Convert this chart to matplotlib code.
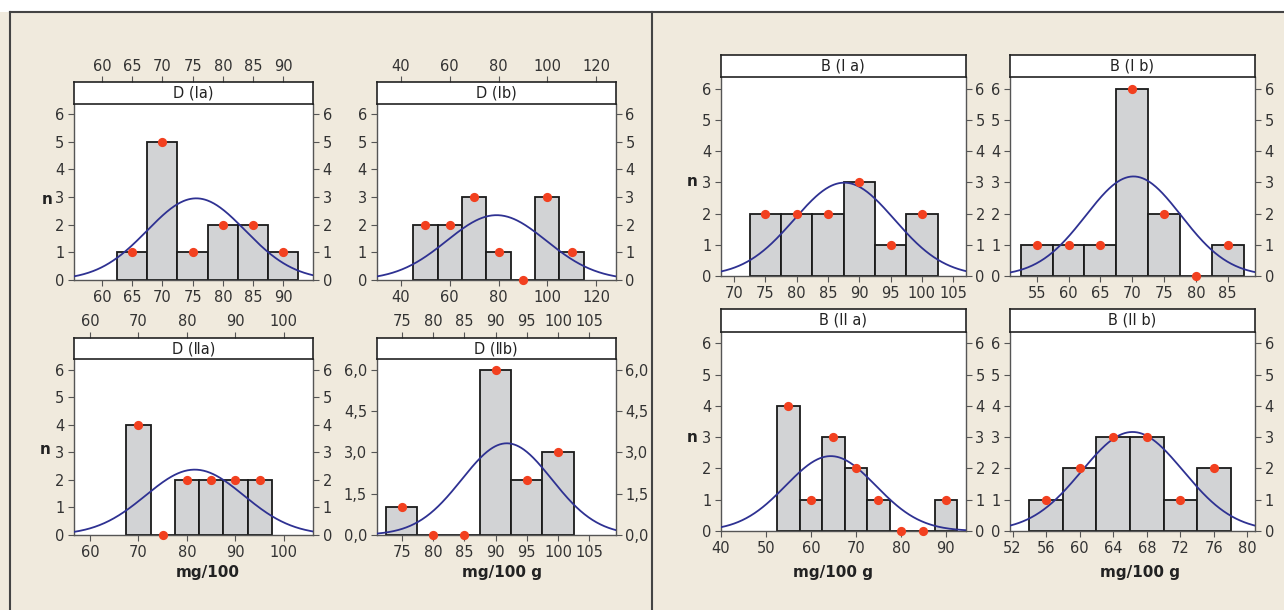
import numpy as np
import matplotlib
matplotlib.use("Agg")
import matplotlib.pyplot as plt
from matplotlib.lines import Line2D
from matplotlib.patches import Rectangle

plt.rcParams['font.family'] = ['Liberation Sans Narrow', 'DejaVu Sans']

# -- Data ---------------------------------------------------------------------
# bin centres, counts, fitted normal (mean, sd)
d_ia_bins = [65, 70, 75, 80, 85, 90]
d_ia_counts = [1, 5, 1, 2, 2, 1]
d_ia_fit = (75.6, 8.1)

d_ib_bins = [50, 60, 70, 80, 90, 100, 110]
d_ib_counts = [2, 2, 3, 1, 0, 3, 1]
d_ib_fit = (79.2, 20.4)

d_iia_bins = [70, 75, 80, 85, 90, 95]
d_iia_counts = [4, 0, 2, 2, 2, 2]
d_iia_fit = (81.6, 10.1)

d_iib_bins = [75, 80, 85, 90, 95, 100]
d_iib_counts = [1, 0, 0, 6, 2, 3]
d_iib_fit = (91.8, 7.2)

b_ia_bins = [75, 80, 85, 90, 95, 100]
b_ia_counts = [2, 2, 2, 3, 1, 2]
b_ia_fit = (87.6, 8.0)

b_ib_bins = [55, 60, 65, 70, 75, 80, 85]
b_ib_counts = [1, 1, 1, 6, 2, 0, 1]
b_ib_fit = (70.2, 7.5)

b_iia_bins = [55, 60, 65, 70, 75, 80, 85, 90]
b_iia_counts = [4, 1, 3, 2, 1, 0, 0, 1]
b_iia_fit = (64.4, 10.0)

b_iib_bins = [56, 60, 64, 68, 72, 76]
b_iib_counts = [1, 2, 3, 3, 1, 2]
b_iib_fit = (66.3, 6.05)

d_ia_xticks = [60, 65, 70, 75, 80, 85, 90]
d_ib_xticks = [40, 60, 80, 100, 120]
d_iia_xticks = [60, 70, 80, 90, 100]
d_iib_xticks = [75, 80, 85, 90, 95, 100, 105]
b_ia_xticks = [70, 75, 80, 85, 90, 95, 100, 105]
b_ib_xticks = [55, 60, 65, 70, 75, 80, 85]
b_iia_xticks = [40, 50, 60, 70, 80, 90]
b_iib_xticks = [52, 56, 60, 64, 68, 72, 76, 80]

y_ticks = [0, 1, 2, 3, 4, 5, 6]
y_ticks_alt = [0, 1.5, 3, 4.5, 6]
y_labels_alt = ["0,0", "1,5", "3,0", "4,5", "6,0"]

W, H = 1284, 610
BG = "#F0EADD"
BAR = "#D2D3D5"
DOT = "#F2401F"
CURVE = "#2E3192"
INK = "#333333"


def box(x0, y0, x1, y1):
    return [x0 / W, 1 - y1 / H, (x1 - x0) / W, (y1 - y0) / H]


fig = plt.figure(figsize=(W / 100, H / 100), dpi=100)
fig.patch.set_facecolor("white")
fig.add_artist(Rectangle((0, 0), 1, 1 - 12 / H, transform=fig.transFigure,
                         facecolor=BG, edgecolor="none", zorder=0))
for xs, ys in [([10 / W, 1], [1 - 12 / H] * 2),
               ([10 / W] * 2, [0, 1 - 12 / H]),
               ([652 / W] * 2, [0, 1 - 12 / H])]:
    fig.add_artist(Line2D(xs, ys, color="#444444", lw=1.5, transform=fig.transFigure))


def panel(plot_box, strip_box, title, bins, counts, fit, xlim, xticks,
          top_ticks=False, alt_y=False):
    ax = fig.add_axes(box(*plot_box))
    width = bins[1] - bins[0]
    ax.bar(bins, counts, width=width, color=BAR, edgecolor="#1a1a1a", linewidth=1.3, zorder=2)
    mu, sd = fit
    xs = np.linspace(xlim[0], xlim[1], 300)
    n = sum(counts)
    ys = n * width / (sd * np.sqrt(2 * np.pi)) * np.exp(-(xs - mu) ** 2 / (2 * sd ** 2))
    ax.plot(xs, ys, color=CURVE, lw=1.3, zorder=3)
    ax.scatter(bins, counts, s=44, color=DOT, zorder=4, clip_on=False, linewidths=0)
    ax.set_xlim(*xlim)
    ax.set_ylim(0, 6.37)
    ax.set_xticks(xticks)
    if alt_y:
        ax.set_yticks(y_ticks_alt)
        ax.set_yticklabels(y_labels_alt)
    else:
        ax.set_yticks(y_ticks)
    ax.tick_params(direction="out", length=4, width=0.8, colors="#555555",
                   labelcolor=INK, labelsize=10.5, right=True, labelright=True, pad=3)
    for s in ["left", "bottom", "right"]:
        ax.spines[s].set_color("#555555")
        ax.spines[s].set_linewidth(1.0)
    ax.spines["top"].set_visible(False)

    st = fig.add_axes(box(*strip_box))
    st.set_facecolor("white")
    st.set_xlim(*xlim)
    st.set_yticks([])
    for s in st.spines.values():
        s.set_color("#222222")
        s.set_linewidth(1.2)
    if top_ticks:
        st.set_xticks(xticks)
        st.xaxis.tick_top()
        st.tick_params(direction="out", length=4, width=0.8, colors="#555555",
                       labelcolor=INK, labelsize=10.5, pad=2)
    else:
        st.set_xticks([])
    st.text(0.5, 0.5, title, transform=st.transAxes, ha="center", va="center",
            fontsize=10.5, color="#222222")
    return ax


panel((74, 104, 313, 280), (74, 82, 313, 104), "D (Ia)", d_ia_bins, d_ia_counts,
      d_ia_fit, (55.4, 94.9), d_ia_xticks, top_ticks=True)
panel((376.7, 104, 615.7, 280), (376.7, 82, 615.7, 104), "D (Ib)", d_ib_bins, d_ib_counts,
      d_ib_fit, (30.0, 128.1), d_ib_xticks, top_ticks=True)
panel((74, 359.3, 313, 535), (74, 337.7, 313, 359.3), "D (\u2161a)", d_iia_bins, d_iia_counts,
      d_iia_fit, (56.7, 106.0), d_iia_xticks, top_ticks=True)
panel((376.7, 359.3, 615.7, 535), (376.7, 337.7, 615.7, 359.3), "D (\u2161b)", d_iib_bins,
      d_iib_counts, d_iib_fit, (71.0, 109.2), d_iib_xticks, top_ticks=True, alt_y=True)
panel((721, 77.3, 965.7, 276), (721, 55, 965.7, 77.3), "B (I a)", b_ia_bins, b_ia_counts,
      b_ia_fit, (67.9, 107.0), b_ia_xticks)
panel((1010, 77.3, 1255, 276), (1010, 55, 1255, 77.3), "B (I b)", b_ib_bins, b_ib_counts,
      b_ib_fit, (50.8, 89.3), b_ib_xticks)
panel((721, 331.7, 965.7, 531), (721, 309, 965.7, 331.7), "B (II a)", b_iia_bins, b_iia_counts,
      b_iia_fit, (40.0, 94.4), b_iia_xticks)
panel((1010, 331.7, 1255, 531), (1010, 309, 1255, 331.7), "B (II b)", b_iib_bins, b_iib_counts,
      b_iib_fit, (51.7, 80.9), b_iib_xticks)

# axis labels
for x, y in [(47, 200), (45, 450), (692, 181), (692, 437)]:
    fig.text(x / W, 1 - y / H, "n", ha="center", va="center", fontsize=11,
             fontweight="bold", color="#222222")
for x, y, s in [(208, 573, "mg/100"), (502, 573, "mg/100 g"),
                (833, 573, "mg/100 g"), (1140, 573, "mg/100 g")]:
    fig.text(x / W, 1 - y / H, s, ha="center", va="center", fontsize=11,
             fontweight="bold", color="#222222")

fig.savefig("out.png", dpi=100, facecolor=fig.get_facecolor())
